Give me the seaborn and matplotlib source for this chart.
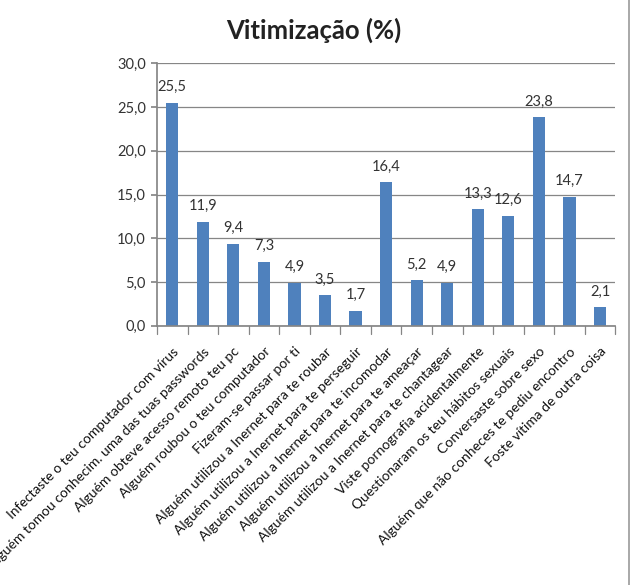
import matplotlib
matplotlib.use("Agg")
import matplotlib.pyplot as plt
import seaborn as sns
import pandas as pd
from matplotlib.lines import Line2D

categories = [
    "Infectaste o teu computador com vírus",
    "Alguém tomou conhecim. uma das tuas passwords",
    "Alguém obteve acesso remoto teu pc",
    "Alguém roubou o teu computador",
    "Fizeram-se passar por ti",
    "Alguém utilizou a Inernet para te roubar",
    "Alguém utilizou a Inernet para te perseguir",
    "Alguém utilizou a Inernet para te incomodar",
    "Alguém utilizou a Inernet para te ameaçar",
    "Alguém utilizou a Inernet para te chantagear",
    "Viste pornografia acidentalmente",
    "Questionaram os teu hábitos sexuais",
    "Conversaste sobre sexo",
    "Alguém que não conheces te pediu encontro",
    "Foste vítima de outra coisa",
]
values = [25.5, 11.9, 9.4, 7.3, 4.9, 3.5, 1.7, 16.4, 5.2, 4.9, 13.3, 12.6, 23.8, 14.7, 2.1]
yticks = [0, 5, 10, 15, 20, 25, 30]

df = pd.DataFrame({"cat": categories, "val": values})

sns.set_theme(style="white")
plt.rcParams["font.family"] = ["Lato", "DejaVu Sans"]

fig = plt.figure(figsize=(6.33, 5.85), dpi=100)
ax = fig.add_axes([0.248, 0.443, 0.724, 0.449])

sns.barplot(data=df, x="cat", y="val", color="#4F81BD", width=0.4, ax=ax,
            saturation=1, edgecolor="none")

ax.set_ylim(0, 30)
ax.set_xlim(-0.5, len(categories) - 0.5)
ax.set_yticks(yticks)
ax.set_yticklabels([f"{t:.1f}".replace(".", ",") for t in yticks], fontsize=10.5, color="#333333")
ax.yaxis.grid(True, color="#868686", linewidth=0.9)
ax.set_axisbelow(True)
ax.set_xlabel("")
ax.set_ylabel("")

for s in ["top", "right"]:
    ax.spines[s].set_visible(False)
ax.spines["left"].set_color("#868686")
ax.spines["bottom"].set_color("#868686")
ax.tick_params(axis="y", length=4, color="#868686", left=True, pad=4)

# Category labels
ax.set_xticks(range(len(categories)))
ax.set_xticklabels(categories, rotation=45, ha="right", va="top",
                   rotation_mode="anchor", fontsize=10, color="#111111")
ax.tick_params(axis="x", length=0, pad=14)

# Boundary tick marks (Excel style)
for b in [i - 0.5 for i in range(len(categories) + 1)]:
    ax.plot([b, b], [0, -0.9], color="#868686", lw=0.9, clip_on=False)

for i, v in enumerate(values):
    ax.text(i, v + 1.0, f"{v:.1f}".replace(".", ","), ha="center", va="bottom",
            fontsize=10.5, color="#333333")

fig.text(0.495, 0.948, "Vitimização (%)", ha="center", va="center",
         fontsize=18.5, fontweight="bold", color="#222222")

fig.add_artist(Line2D([0.994, 0.994], [0, 1], transform=fig.transFigure,
                      color="#9a9a9a", lw=1.2))

fig.savefig("out.png", dpi=100)
